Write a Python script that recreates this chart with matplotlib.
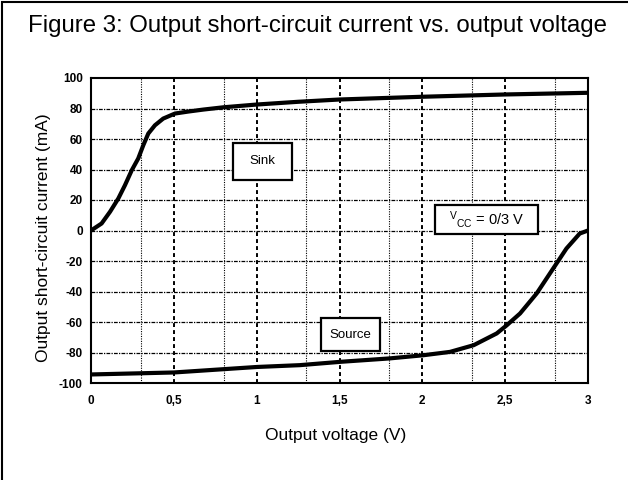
import numpy as np
import matplotlib.pyplot as plt
from matplotlib.patches import Rectangle

plt.rcParams['font.family'] = ['Liberation Sans', 'DejaVu Sans']
plt.rcParams['axes.unicode_minus'] = False

# sink curve (V, mA)
sink_v = [0, 0.064, 0.115, 0.165, 0.205, 0.246, 0.285, 0.316, 0.346, 0.386, 0.436, 0.507, 0.587,
          0.678, 0.8, 1.0, 1.25, 1.5, 2.0, 2.5, 3.0]
sink_i = [0, 4.6, 12.3, 21, 29.7, 39.5, 47.2, 56, 63.6, 69, 73.4, 76.7, 78.0,
          79.3, 80.8, 82.6, 84.4, 85.9, 87.7, 89.2, 90.3]

# source curve (V, mA)
src_v = [0, 0.5, 1.0, 1.26, 1.507, 1.8, 2.006, 2.167, 2.31, 2.449, 2.51, 2.59, 2.69, 2.79, 2.87, 2.95, 3.0]
src_i = [-94.4, -93.1, -89.5, -88.3, -86.1, -83.9, -81.8, -79.6, -75.2, -67.5, -62.1, -54.4, -41.3, -24.9, -11.8, -2.0, 0]

xticks = [0, 0.5, 1, 1.5, 2, 2.5, 3]
xlabels = ['0', '0,5', '1', '1,5', '2', '2,5', '3']
yticks = list(range(-100, 101, 20))
minor_x = [0.3, 0.8, 1.3, 1.8, 2.3, 2.8]

fig = plt.figure(figsize=(6.28, 4.8), dpi=100)
ax = fig.add_axes([91/628, 1-383/480, (588-91)/628, (383-78)/480])

# grid
for yv in yticks[1:-1]:
    ax.axhline(yv, color='black', lw=0.9, dashes=(3, 1, 1, 1), zorder=1)
for xv in xticks[1:-1]:
    ax.axvline(xv, color='black', lw=1.4, dashes=(2, 1.6), zorder=1)
for xv in minor_x:
    ax.axvline(xv, color='black', lw=0.8, dashes=(1, 1.2), zorder=1)

ax.plot(sink_v, sink_i, color='black', lw=3, solid_capstyle='round', solid_joinstyle='round', zorder=3)
ax.plot(src_v, src_i, color='black', lw=3, solid_capstyle='round', solid_joinstyle='round', zorder=3)

ax.set_xlim(0, 3)
ax.set_ylim(-100, 100)
ax.set_xticks(xticks)
ax.set_xticklabels(xlabels)
ax.set_yticks(yticks)
ax.tick_params(length=0, labelsize=8.5)
ax.tick_params(axis='x', pad=9)
ax.tick_params(axis='y', pad=6)
for lab in ax.get_xticklabels() + ax.get_yticklabels():
    lab.set_fontweight('bold')
for s in ax.spines.values():
    s.set_linewidth(1.5)

# label boxes
def label_box(x0, x1, y0, y1, txt, size):
    ax.add_patch(Rectangle((x0, y0), x1 - x0, y1 - y0, facecolor='white', edgecolor='black',
                           lw=1.6, zorder=4))
    ax.text((x0 + x1) / 2, (y0 + y1) / 2, txt, fontsize=size, ha='center', va='center', zorder=5)

label_box(0.857, 1.213, 33.4, 57.7, 'Sink', 9.5)
label_box(1.388, 1.744, -79.3, -57.7, 'Source', 9.5)
label_box(2.076, 2.698, -2.6, 17, r'$\mathregular{^{V}{}_{CC}}$ = 0/3 V', 10.5)

fig.text(318/628, 1-32/480, 'Figure 3: Output short-circuit current vs. output voltage',
         fontsize=17.3, ha='center', va='baseline')
fig.text(44/628, 1-238/480, 'Output short-circuit current (mA)', fontsize=12.5,
         rotation=90, ha='center', va='center')
fig.text(336/628, 1-440/480, 'Output voltage (V)', fontsize=12.5, ha='center', va='baseline')

# outer frame (only top/left visible)
fig.patches.append(Rectangle((2/628, -0.1), 1.2, 1.1 - 2/480, transform=fig.transFigure,
                             fill=False, edgecolor='black', lw=1.5))

plt.savefig('out.png', dpi=100)
